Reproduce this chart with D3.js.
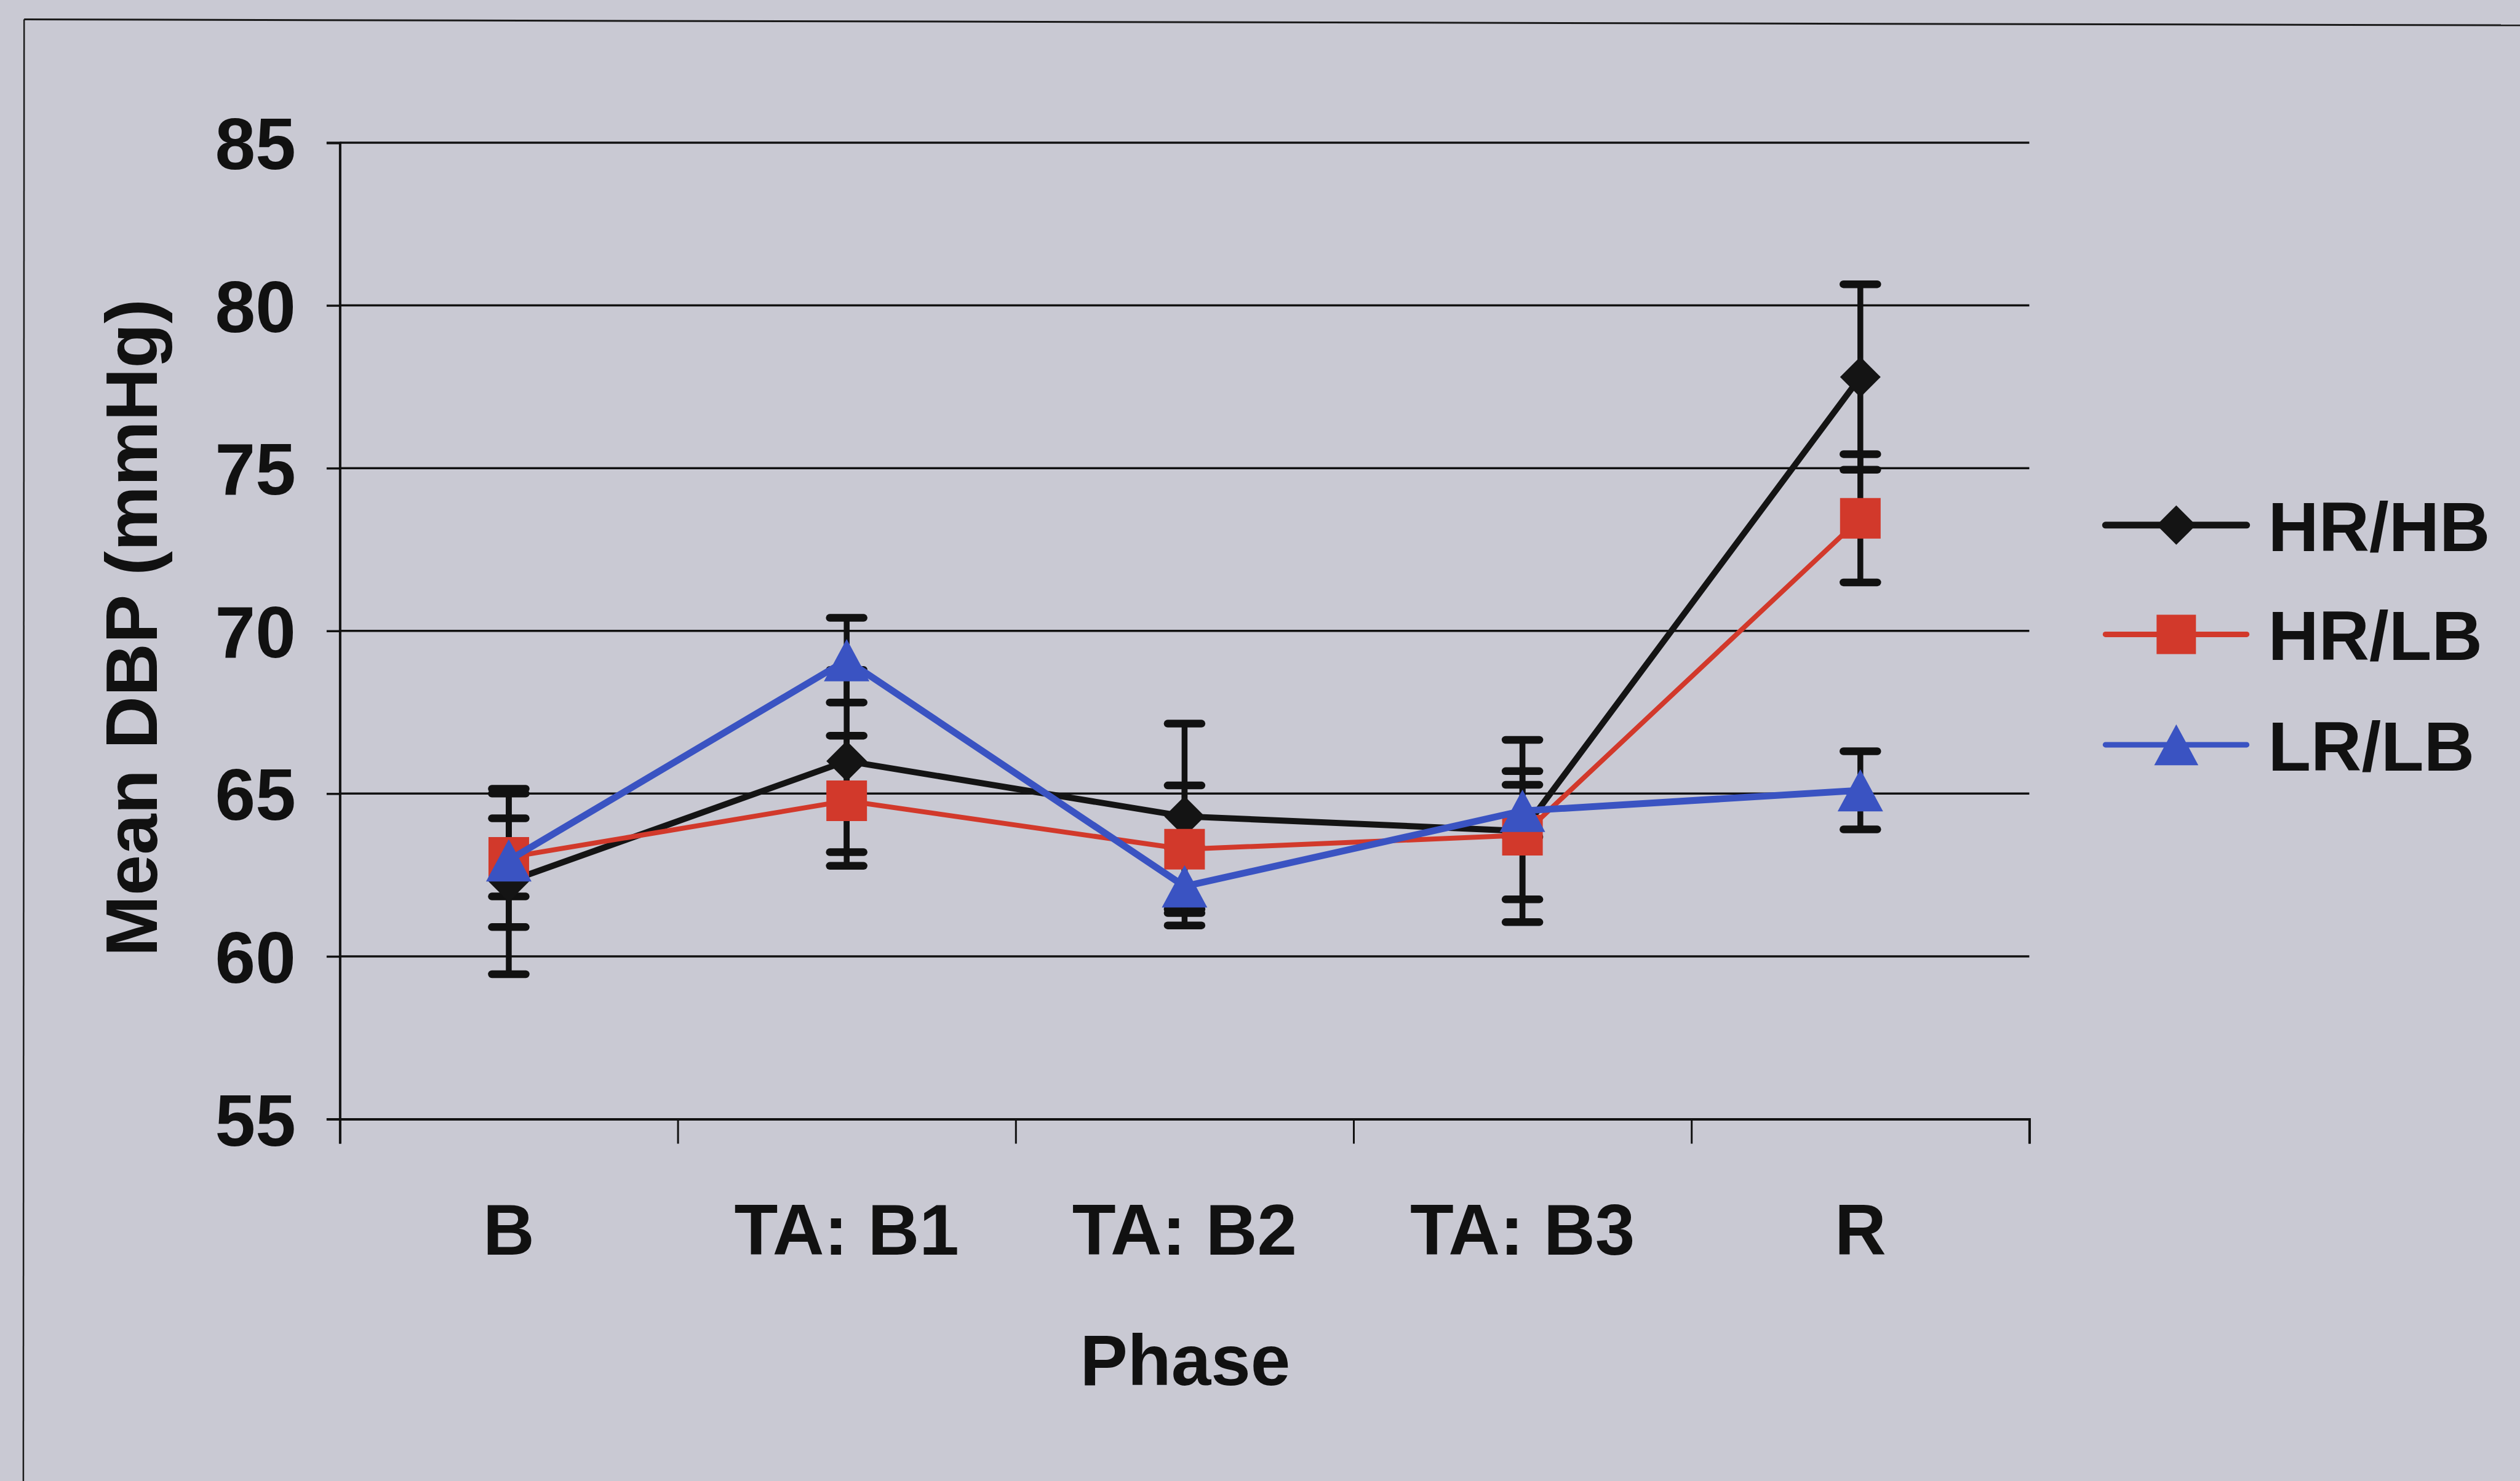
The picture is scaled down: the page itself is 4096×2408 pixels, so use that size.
<!DOCTYPE html>
<html>
<head>
<meta charset="utf-8">
<script src="https://cdn.jsdelivr.net/npm/d3@7/dist/d3.min.js"></script>
<style>
html,body{margin:0;padding:0;background:#c9c9d3;}
svg{display:block;}
text{font-family:"Liberation Sans",Arial,Helvetica,sans-serif;font-weight:bold;fill:#111;}
</style>
</head>
<body>
<script>
// ---- data ----
const categories = ["B", "TA: B1", "TA: B2", "TA: B3", "R"];
const seriesNames = ["HR/HB", "HR/LB", "LR/LB"];
const hrhbValues = [62.3, 66.0, 64.3, 63.85, 77.8];
const hrhbErrors = [2.85, 2.8, 2.85, 2.8, 2.85];
const hrlbValues = [63.04, 64.78, 63.29, 63.72, 73.46];
const hrlbErrors = [1.2, 2.0, 1.96, 1.97, 1.97];
const lrlbValues = [62.95, 69.1, 62.15, 64.47, 65.1];
const lrlbErrors = [2.05, 1.3, 1.2, 0.8, 1.2];
const yTicks = [55, 60, 65, 70, 75, 80, 85];
const xTitle = "Phase";
const yTitle = "Mean DBP (mmHg)";

// ---- layout (scaled 0.632 from reference) ----
const S = 0.632;
const W = 4096, H = 2408;
const plot = {left: 874*S, right: 5219*S, top: 367*S, bottom: 2879*S};

const series = [
  {name: seriesNames[0], values: hrhbValues, errors: hrhbErrors, color: "#141414", width: 10, shape: "diamond"},
  {name: seriesNames[1], values: hrlbValues, errors: hrlbErrors, color: "#d2392b", width: 8, shape: "square"},
  {name: seriesNames[2], values: lrlbValues, errors: lrlbErrors, color: "#3a53c2", width: 11, shape: "triangle"}
];

const svg = d3.select("body").append("svg").attr("width", W).attr("height", H);
svg.append("rect").attr("width", W).attr("height", H).attr("fill", "#c9c9d3");

// frame lines (photo border)
svg.append("line").attr("x1", 62*S).attr("y1", 50*S).attr("x2", W).attr("y2", 65*S)
  .attr("stroke", "#1a1a1a").attr("stroke-width", 3);
svg.append("line").attr("x1", 62*S).attr("y1", 50*S).attr("x2", 60*S).attr("y2", H)
  .attr("stroke", "#1a1a1a").attr("stroke-width", 2.5);

const x = d3.scaleBand().domain(categories).range([plot.left, plot.right]).padding(0);
const xEdges = d3.scaleLinear().domain([0, categories.length]).range([plot.left, plot.right]);
const y = d3.scaleLinear().domain([55, 85]).range([plot.bottom, plot.top]);
const cx = c => x(c) + x.bandwidth()/2;

// gridlines
svg.append("g").selectAll("line").data(yTicks.filter(t => t !== 55)).join("line")
  .attr("x1", plot.left).attr("x2", plot.right)
  .attr("y1", d => y(d)).attr("y2", d => y(d))
  .attr("stroke", "#111").attr("stroke-width", 3.5);

// y axis
const yAxis = svg.append("g").attr("transform", `translate(${plot.left},0)`)
  .call(d3.axisLeft(y).tickValues(yTicks).tickSize(34*S/0.632*0.632 + 0).tickPadding(50).tickFormat(d3.format("d")));
yAxis.select(".domain").attr("stroke", "#111").attr("stroke-width", 4);
yAxis.selectAll(".tick line").attr("stroke", "#111").attr("stroke-width", 3.5);
yAxis.selectAll(".tick text").attr("font-size", 118).attr("fill", "#111").attr("dy", "0.36em")
  .style("font-family", "'Liberation Sans', Arial, sans-serif").style("font-weight", "bold");

// x axis (ticks at category boundaries)
const xAxis = svg.append("g").attr("transform", `translate(0,${plot.bottom})`)
  .call(d3.axisBottom(xEdges).tickValues(d3.range(categories.length + 1)).tickSize(40).tickFormat(""));
xAxis.select(".domain").attr("stroke", "#111").attr("stroke-width", 4);
xAxis.selectAll(".tick line").attr("stroke", "#111").attr("stroke-width", 3);

svg.append("g").selectAll("text").data(categories).join("text")
  .attr("x", d => cx(d)).attr("y", 3228*S)
  .attr("text-anchor", "middle").attr("font-size", 116).text(d => d);

// axis titles
svg.append("text").attr("x", 3048*S).attr("y", 3563*S).attr("text-anchor", "middle")
  .attr("font-size", 116).text(xTitle);
svg.append("text").attr("transform", `translate(${403*S},${1615*S}) rotate(-90)`)
  .attr("text-anchor", "middle").attr("font-size", 119).text(yTitle);

// marker shapes
function markerPath(shape, size) {
  const h = size/2;
  if (shape === "diamond") return `M0,${-h}L${h},0L0,${h}L${-h},0Z`;
  if (shape === "square") return `M${-h},${-h}H${h}V${h}H${-h}Z`;
  const w = size*0.56, t = size*0.52;
  return `M0,${-t}L${w},${t}L${-w},${t}Z`;
}

// error bars (drawn beneath)
const eb = svg.append("g");
series.forEach(s => {
  s.values.forEach((v, i) => {
    const px = cx(categories[i]);
    const e = s.errors[i];
    eb.append("line").attr("x1", px).attr("x2", px).attr("y1", y(v + e)).attr("y2", y(v - e))
      .attr("stroke", "#111").attr("stroke-width", 9.5);
    [v + e, v - e].forEach(ev => {
      eb.append("line").attr("x1", px - 27.5).attr("x2", px + 27.5).attr("y1", y(ev)).attr("y2", y(ev))
        .attr("stroke", "#111").attr("stroke-width", 12.5).attr("stroke-linecap", "round");
    });
  });
});

// lines + markers
const lineGen = d3.line().x((d, i) => cx(categories[i])).y(d => y(d));
series.forEach(s => {
  const g = svg.append("g");
  g.append("path").attr("d", lineGen(s.values)).attr("fill", "none")
    .attr("stroke", s.color).attr("stroke-width", s.width).attr("stroke-linejoin", "round");
  g.selectAll("path.m").data(s.values).join("path").attr("class", "m")
    .attr("transform", (d, i) => `translate(${cx(categories[i])},${y(d)})`)
    .attr("d", markerPath(s.shape, 66)).attr("fill", s.color);
});

// legend
const legRows = [1351, 1632, 1916];
const leg = svg.append("g");
series.forEach((s, i) => {
  const ly = legRows[i]*S;
  leg.append("line").attr("x1", 5415*S).attr("x2", 5778*S).attr("y1", ly).attr("y2", ly)
    .attr("stroke", s.color).attr("stroke-width", i === 0 ? 11 : 9).attr("stroke-linecap", "round");
  leg.append("path").attr("transform", `translate(${5597*S},${ly})`)
    .attr("d", markerPath(s.shape, 64)).attr("fill", s.color);
  leg.append("text").attr("x", 5833*S).attr("y", ly + 42).attr("font-size", 114).text(s.name);
});
</script>
</body>
</html>
